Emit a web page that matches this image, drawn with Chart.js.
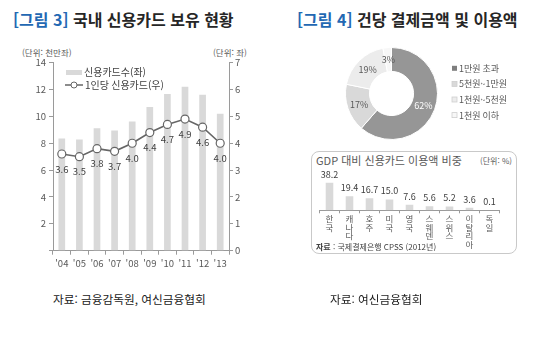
<!DOCTYPE html>
<html lang="ko">
<head>
<meta charset="utf-8">
<script src="https://cdn.jsdelivr.net/npm/chart.js@4.4.1/dist/chart.umd.min.js"></script>
<style>
  body { margin: 0; background: #fff; font-family: 'Noto Sans CJK KR', sans-serif; }
  #page { position: relative; width: 556px; height: 339px; overflow: hidden; }
  .abs { position: absolute; white-space: nowrap; }
  .title { top: 8px; font-size: 16px; line-height: 22px; font-weight: 700; color: #262626; }
  .title span { color: #2368b3; }
  .unit { top: 46px; font-size: 8.5px; line-height: 12px; color: #595959; }
  .cap { top: 291px; font-size: 11.7px; line-height: 16px; color: #222; }
  #box { left: 311px; top: 151px; width: 206px; height: 103px; box-sizing: border-box;
         border: 1.5px solid #c9c9c9; border-radius: 8px; }
  canvas { position: absolute; }
</style>
</head>
<body>
<div id="page">
  <div class="abs title" style="left:13px"><span>[그림 3]</span> 국내 신용카드 보유 현황</div>
  <div class="abs title" style="left:297px"><span>[그림 4]</span> 건당 결제금액 및 이용액</div>
  <div class="abs unit" style="left:22px">(단위: 천만좌)</div>
  <div class="abs unit" style="left:213px">(단위: 좌)</div>

  <canvas id="cards" width="280" height="235" style="left:0;top:45px"></canvas>
  <canvas id="donut" width="200" height="93" style="left:345px;top:47px"></canvas>

  <div class="abs" id="box"></div>
  <div class="abs" style="left:316px;top:153px;font-size:11px;line-height:14px;color:#595959">GDP 대비 신용카드 이용액 비중</div>
  <div class="abs" style="left:480px;top:155px;font-size:8px;line-height:12px;color:#595959">(단위: %)</div>
  <canvas id="gdp" width="200" height="85" style="left:310px;top:165px"></canvas>
  <div class="abs" style="left:316px;top:241px;font-size:8px;line-height:11px;color:#404040"><b>자료</b> : 국제결제은행 CPSS (2012년)</div>

  <div class="abs cap" style="left:53px">자료: 금융감독원, 여신금융협회</div>
  <div class="abs cap" style="left:330px">자료: 여신금융협회</div>
</div>

<script>
const years = ["'04", "'05", "'06", "'07", "'08", "'09", "'10", "'11", "'12", "'13"];
const cardCounts = [8.35, 8.29, 9.12, 8.96, 9.62, 10.70, 11.66, 12.21, 11.62, 10.20];
const cardsPerPerson = [3.6, 3.5, 3.8, 3.7, 4.0, 4.4, 4.7, 4.9, 4.6, 4.0];
const seriesNames = ['신용카드수(좌)', '1인당 신용카드(우)'];

const payLabels = ['1만원 초과', '5천원~1만원', '1천원~5천원', '1천원 이하'];
const payShares = [62, 17, 19, 3];

const countries = [['한','국'], ['캐','나','다'], ['호','주'], ['미','국'], ['영','국'],
  ['스','웨','덴'], ['스','위','스'], ['이','탈','리','아'], ['독','일']];
const gdpShares = [38.2, 19.4, 16.7, 15.0, 7.6, 5.6, 5.2, 3.6, 0.1];

const FONT = "'Noto Sans CJK KR', sans-serif";
Chart.defaults.font.family = FONT;
Chart.defaults.color = '#595959';

const axisGray = '#9a9a9a';
const barGray = '#d9d9d9';
const lineGray = '#666666';
const donutColors = ['#969696', '#d9d9d9', '#ececec', '#f7f7f7'];

// chart 1: bars + line, point labels and the legend inside the plot
const cardsExtras = {
  id: 'cardsExtras',
  afterDatasetsDraw(chart) {
    const ctx = chart.ctx;
    ctx.save();
    ctx.font = '9.5px ' + FONT;
    ctx.fillStyle = '#404040';
    ctx.textAlign = 'center';
    ctx.textBaseline = 'middle';
    chart.getDatasetMeta(0).data.forEach((pt, i) => {
      ctx.fillText(cardsPerPerson[i].toFixed(1), pt.x, pt.y + 15);
    });
    // legend
    ctx.fillStyle = barGray;
    ctx.fillRect(66, 25, 16, 5);
    ctx.strokeStyle = lineGray;
    ctx.lineWidth = 1.5;
    ctx.beginPath();
    ctx.moveTo(65, 40); ctx.lineTo(83, 40);
    ctx.stroke();
    ctx.beginPath();
    ctx.arc(74, 40, 3, 0, Math.PI * 2);
    ctx.fillStyle = '#fff';
    ctx.fill();
    ctx.lineWidth = 1;
    ctx.stroke();
    ctx.fillStyle = '#404040';
    ctx.textAlign = 'left';
    ctx.font = '10px ' + FONT;
    ctx.fillText(seriesNames[0], 84, 27.5);
    ctx.fillText(seriesNames[1], 85, 40);
    ctx.restore();
  }
};

new Chart(document.getElementById('cards'), {
  data: {
    labels: years,
    datasets: [
      { type: 'line', label: seriesNames[1], data: cardsPerPerson, yAxisID: 'y1',
        borderColor: lineGray, borderWidth: 1.6, pointRadius: 4,
        pointBackgroundColor: '#fff', pointBorderColor: lineGray, pointBorderWidth: 1.2, order: 0 },
      { type: 'bar', label: seriesNames[0], data: cardCounts, yAxisID: 'y',
        backgroundColor: barGray, barPercentage: 0.38, categoryPercentage: 1, order: 1 }
    ]
  },
  options: {
    responsive: false, animation: false, devicePixelRatio: 1,
    layout: { padding: { top: 17.7, left: 0, right: 0, bottom: 0 } },
    plugins: { legend: { display: false }, tooltip: { enabled: false } },
    scales: {
      x: {
        grid: { drawOnChartArea: false, tickLength: 4, color: axisGray },
        border: { color: axisGray },
        ticks: { font: { size: 9.5 }, padding: 3, maxRotation: 0 },
        afterFit: s => { s.height = 29.3; }
      },
      y: {
        position: 'left', min: 0, max: 14,
        grid: { drawOnChartArea: false, tickLength: 4, color: axisGray },
        border: { color: axisGray },
        ticks: { stepSize: 2, font: { size: 9.5 }, padding: 3,
          callback: v => v === 0 ? '' : v },
        afterFit: s => { s.width = 53; }
      },
      y1: {
        position: 'right', min: 0, max: 7,
        grid: { drawOnChartArea: false, tickLength: 4, color: axisGray },
        border: { color: axisGray },
        ticks: { stepSize: 1, font: { size: 9.5 }, padding: 2 },
        afterFit: s => { s.width = 51; }
      }
    }
  },
  plugins: [cardsExtras]
});

// chart 2: doughnut with slice labels and legend
const donutExtras = {
  id: 'donutExtras',
  afterDatasetsDraw(chart) {
    const ctx = chart.ctx;
    ctx.save();
    ctx.font = '9px ' + FONT;
    ctx.textAlign = 'center';
    ctx.textBaseline = 'middle';
    chart.getDatasetMeta(0).data.forEach((arc, i) => {
      const p = arc.tooltipPosition();
      ctx.fillStyle = i === 0 ? '#fff' : '#595959';
      ctx.fillText(payShares[i] + '%', p.x, p.y);
    });
    ctx.textAlign = 'left';
    payLabels.forEach((name, i) => {
      const y = 21.3 + i * 15.6;
      ctx.fillStyle = i === 0 ? '#7f7f7f' : donutColors[i];
      ctx.fillRect(107, y - 2.5, 5, 5);
      if (i > 0) {
        ctx.strokeStyle = '#cfcfcf';
        ctx.lineWidth = 0.8;
        ctx.strokeRect(107, y - 2.5, 5, 5);
      }
      ctx.fillStyle = '#595959';
      ctx.fillText(name, 114, y);
    });
    ctx.restore();
  }
};

new Chart(document.getElementById('donut'), {
  type: 'doughnut',
  data: {
    labels: payLabels,
    datasets: [{ data: payShares, backgroundColor: donutColors, borderColor: '#fff', borderWidth: 1 }]
  },
  options: {
    responsive: false, animation: false, devicePixelRatio: 1,
    cutout: '48%',
    layout: { padding: { left: 0, top: 0, bottom: 0, right: 107 } },
    plugins: { legend: { display: false }, tooltip: { enabled: false } }
  },
  plugins: [donutExtras]
});

// chart 3: GDP share inset
const gdpLabels = {
  id: 'gdpLabels',
  afterDatasetsDraw(chart) {
    const ctx = chart.ctx;
    ctx.save();
    ctx.font = '9px ' + FONT;
    ctx.fillStyle = '#404040';
    ctx.textAlign = 'center';
    ctx.textBaseline = 'middle';
    chart.getDatasetMeta(0).data.forEach((bar, i) => {
      ctx.fillText(gdpShares[i].toFixed(1), bar.x, bar.y - 8.5);
    });
    ctx.restore();
  }
};

new Chart(document.getElementById('gdp'), {
  type: 'bar',
  data: {
    labels: countries,
    datasets: [{ data: gdpShares, backgroundColor: barGray, barPercentage: 0.38, categoryPercentage: 1 }]
  },
  options: {
    responsive: false, animation: false, devicePixelRatio: 1,
    layout: { padding: { left: 9.5, right: 10.5, top: 9.2, bottom: 0 } },
    plugins: { legend: { display: false }, tooltip: { enabled: false } },
    scales: {
      x: {
        grid: { drawOnChartArea: false, tickLength: 3, color: axisGray },
        border: { color: axisGray },
        ticks: { font: { size: 8.5, lineHeight: 1.0 }, padding: 1.5, maxRotation: 0, color: '#595959' },
        afterFit: s => { s.height = 39.7; }
      },
      y: { display: false, min: 0, max: 50 }
    }
  },
  plugins: [gdpLabels]
});
</script>
</body>
</html>
